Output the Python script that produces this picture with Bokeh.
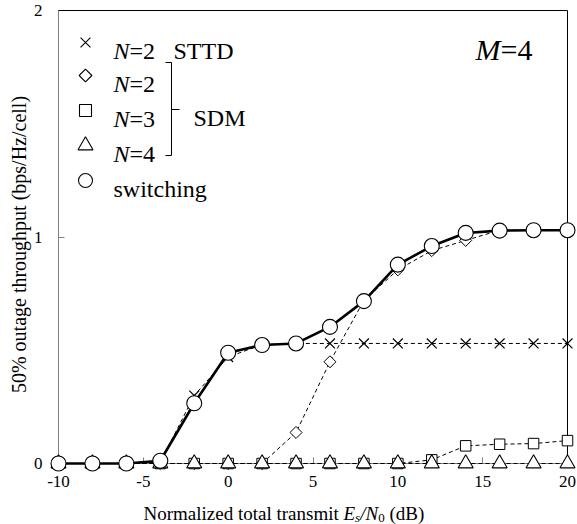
import math
from bokeh.plotting import figure
from bokeh.models import Label, Range1d, FixedTicker
from bokeh.embed import file_html
from bokeh.resources import INLINE

# ---- data ----
snr_db = [-10, -8, -6, -4, -2, 0, 2, 4, 6, 8, 10, 12, 14, 16, 18, 20]
sttd_n2 = [0, 0, 0, 0.005, 0.30, 0.47, 0.525, 0.53, 0.53, 0.53, 0.53, 0.53, 0.53, 0.53, 0.53, 0.53]
sdm_n2 = [0, 0, 0, 0, 0, 0, 0, 0.137, 0.449, 0.72, 0.855, 0.94, 0.985, 1.03, 1.03, 1.03]
sdm_n3 = [0, 0, 0, 0, 0, 0, 0, 0, 0, 0, 0, 0.016, 0.078, 0.085, 0.088, 0.101]
sdm_n4 = [0, 0, 0, 0, 0, 0, 0, 0, 0, 0, 0, 0, 0, 0, 0, 0]
switching = [0, 0, 0, 0.012, 0.266, 0.489, 0.523, 0.53, 0.603, 0.717, 0.878, 0.96, 1.018, 1.028, 1.03, 1.03]
x_ticks = [-10, -5, 0, 5, 10, 15, 20]
x_tick_text = {-10: "-10", -5: "-5"}
y_ticks = [0, 1, 2]
y_title = "50% outage throughput (bps/Hz/cell)"

FONT = "Liberation Serif"
X0, X1, Y0, Y1 = -10, 20, 0, 2

# ---- layout (figure pixels) ----
W, H = 577, 524
AX_L, AX_R, AX_T, AX_B = 58, 567, 10, 463   # where the axis box sits in the figure
xs = (X1 - X0) / (AX_R - AX_L)
ys = (Y1 - Y0) / (AX_B - AX_T)
x_range = Range1d(X0 - AX_L * xs, X1 + (W - AX_R) * xs)
y_range = Range1d(Y0 - (H - AX_B) * ys, Y1 + AX_T * ys)

p = figure(width=W, height=H, x_range=x_range, y_range=y_range, title=None,
           output_backend="svg", toolbar_location=None,
           min_border=0)
p.grid.visible = False
p.outline_line_color = None
p.background_fill_color = "white"
p.border_fill_color = "white"

p.xaxis.fixed_location = Y0
p.yaxis.fixed_location = X0
p.xaxis.bounds = (X0, X1)
p.yaxis.bounds = (Y0, Y1)
for ax in (p.xaxis[0], p.yaxis[0]):
    ax.level = "underlay"
    ax.axis_line_color = "#808080"
    ax.major_tick_line_color = "#808080"
    ax.minor_tick_line_color = None
    ax.major_tick_in = 6
    ax.major_tick_out = 0
    ax.major_label_text_font = FONT
    ax.major_label_text_font_size = "17px"
    ax.major_label_text_color = "black"
p.xaxis.ticker = FixedTicker(ticks=x_ticks)
p.xaxis.major_label_overrides = x_tick_text
p.yaxis.ticker = FixedTicker(ticks=y_ticks)
p.xaxis.major_label_standoff = 12
p.yaxis.major_label_standoff = 16

# top and right borders of the box
p.segment(x0=[X0, X1], y0=[Y1, Y0], x1=[X1, X1], y1=[Y1, Y1], line_color="black", line_width=1)

dash = "4 3"
p.line(snr_db, sttd_n2, line_color="black", line_width=1, line_dash=dash)
p.line(snr_db, sdm_n2, line_color="black", line_width=1, line_dash=dash)
p.line(snr_db, sdm_n3, line_color="black", line_width=1, line_dash=dash)
p.line(snr_db, sdm_n4, line_color="black", line_width=1, line_dash=dash)
p.scatter(snr_db, sttd_n2, marker="x", size=14, line_color="black", line_width=1.2)
p.scatter(snr_db, sdm_n2, marker="square", angle=0.7854, size=8.5, line_color="black", fill_color="white", line_width=1)
p.scatter(snr_db, sdm_n3, marker="square", size=10.5, line_color="black", fill_color="white", line_width=1)
p.scatter(snr_db, sdm_n4, marker="triangle", size=15, line_color="black", fill_color="white", line_width=1.1)
p.line(snr_db, switching, line_color="black", line_width=2.6)
p.scatter(snr_db, switching, marker="circle", size=15, line_color="black", fill_color="white", line_width=1.1)

# ---- helpers: page pixel -> data (for legend / text placement) ----
def dx(px):
    return x_range.start + px * xs
def dy(py):
    return y_range.end - py * ys

def txt(x, y, s, size, style="normal", xoff=0, yoff=0, align="left", baseline="alphabetic", angle=0):
    p.add_layout(Label(x=x, y=y, text=s, x_offset=xoff, y_offset=yoff, angle=angle,
                       text_font=FONT, text_font_size=size, text_font_style=style,
                       text_align=align, text_baseline=baseline, text_color="black"))

# y axis title
txt(dx(18), dy(244), y_title, "20px", align="center", baseline="middle", angle=math.pi / 2)

# ---- legend (drawn by hand) ----
LS = "24px"
mx, tx = dx(85), dx(113)
rows = [42, 75, 110, 145, 180]
markers = [("x", 14, 0), ("square", 9, 0.7854), ("square", 12, 0), ("triangle", 15, 0), ("circle", 14, 0)]
for (mk, sz, ang), r in zip(markers, rows):
    p.scatter([mx], [dy(r)], marker=mk, size=sz, angle=ang, line_color="black", fill_color="white", line_width=1.1)
for digit, r in zip(["=2", "=2", "=3", "=4"], rows[:4]):
    txt(tx, dy(r + 8), "N", LS, style="italic")
    txt(tx, dy(r + 8), digit, LS, xoff=16.0)
txt(dx(173), dy(rows[0] + 8), "STTD", LS)
txt(tx, dy(rows[4] + 8), "switching", LS)

# bracket
b_hook, b_x, b_tick = dx(165), dx(171), dx(179)
p.line([b_hook, b_x, b_x, b_hook], [dy(62), dy(62), dy(155), dy(155)], line_color="black", line_width=1)
p.line([b_x, b_tick], [dy(109), dy(109)], line_color="black", line_width=1)
txt(dx(193), dy(117), "SDM", LS)

# M=4
txt(dx(475), dy(49), "M", "30px", style="italic")
txt(dx(475), dy(49), "=4", "30px", xoff=25.0)

# x axis label with italic / subscript parts
XS = "19px"
SS = "13px"
bx0, by0 = dx(143), dy(513)
txt(bx0, by0, "Normalized total transmit", XS)
o = 200.0
txt(bx0, by0, "E", XS, style="italic", xoff=o); o += 11.6
txt(bx0, by0, "s", SS, style="italic", xoff=o, yoff=-4); o += 5.1
txt(bx0, by0, "/N", XS, style="italic", xoff=o); o += 18.0
txt(bx0, by0, "0", SS, xoff=o, yoff=-4); o += 6.5 + 4.8
txt(bx0, by0, "(dB)", XS, xoff=o)

open("out.html", "w").write(file_html(p, INLINE))
